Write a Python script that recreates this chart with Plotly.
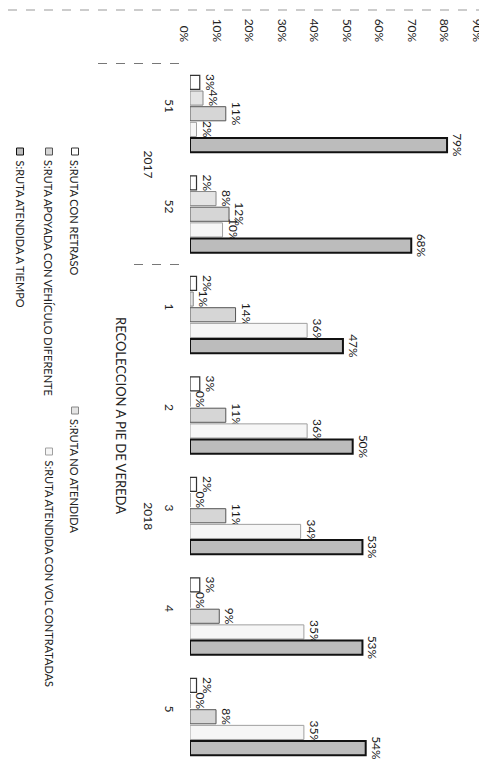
import plotly.graph_objects as go

# ---- data ----
weeks = ["51", "52", "1", "2", "3", "4", "5"]
years = ["2017", "2017", "2018", "2018", "2018", "2018", "2018"]
value_ticks = [0, 0.1, 0.2, 0.3, 0.4, 0.5, 0.6, 0.7, 0.8, 0.9]

series_names = [
    "S:RUTA CON RETRASO",
    "S:RUTA NO ATENDIDA",
    "S:RUTA APOYADA CON VEHÍCULO DIFERENTE",
    "S:RUTA ATENDIDA CON VOL CONTRATADAS",
    "S:RUTA ATENDIDA A TIEMPO",
]
con_retraso = [3, 2, 2, 3, 2, 3, 2]
no_atendida = [4, 8, 1, 0, 0, 0, 0]
apoyada_vehiculo = [11, 12, 14, 11, 11, 9, 8]
vol_contratadas = [2, 10, 36, 36, 34, 35, 35]
a_tiempo = [79, 68, 47, 50, 53, 53, 54]
axis_title = "RECOLECCION A PIE DE VEREDA"

all_series = [con_retraso, no_atendida, apoyada_vehiculo, vol_contratadas, a_tiempo]

# ---- styles ----
fills = ["#ffffff", "#e4e4e4", "#d6d6d6", "#f6f6f6", "#bcbcbc"]
lines = ["#333333", "#888888", "#555555", "#a0a0a0", "#111111"]
lwidths = [1.2, 1, 1, 1, 2]
FONT = "Lato"

W, H = 487, 759
L, R, T, B = 182, 12, 55, 0
PW, PH = W - L - R, H - T - B


def px(xpix):
    return (xpix - L) / PW


def py(ypix):
    return 1 - (ypix - T) / PH


fig = go.Figure()
for name, vals, fc, lc, lw in zip(series_names, all_series, fills, lines, lwidths):
    fig.add_trace(go.Bar(
        y=weeks, x=[v / 100 for v in vals], orientation="h", name=name,
        marker=dict(color=fc, line=dict(color=lc, width=lw)),
        text=[f"{v}%" for v in vals], textposition="outside", textangle=90,
        constraintext="none", cliponaxis=False,
        textfont=dict(family=FONT, size=12, color="#1a1a1a"),
        showlegend=False,
    ))

annotations = []
shapes = []

# year group labels and dividers
groups = {}
for i, yv in enumerate(years):
    groups.setdefault(yv, []).append(i)
for yv, idx in groups.items():
    annotations.append(dict(
        xref="paper", yref="y", x=px(131), y=(idx[0] + idx[-1]) / 2,
        text=yv, textangle=90, showarrow=False,
        font=dict(family=FONT, size=12, color="#222")))
    shapes.append(dict(type="line", xref="paper", yref="y",
                       x0=px(90) if idx[0] == 0 else px(126), x1=px(177),
                       y0=idx[0] - 0.5, y1=idx[0] - 0.5,
                       line=dict(color="#777", width=1, dash="dash")))

# axis title
annotations.append(dict(
    xref="paper", yref="paper", x=px(103), y=0.5, text=axis_title,
    textangle=90, showarrow=False, font=dict(family=FONT, size=13, color="#222")))

# legend (rotated, drawn manually)
legend_pos = [(67, 140), (67, 399), (41, 140), (41, 440), (12, 140)]
for (lx, ly), name, fc, lc in zip(legend_pos, series_names, fills, lines):
    shapes.append(dict(type="rect", xref="paper", yref="paper",
                       x0=px(lx - 3.5), x1=px(lx + 3.5), y0=py(ly), y1=py(ly + 7),
                       fillcolor=fc, line=dict(color=lc, width=1)))
    annotations.append(dict(
        xref="paper", yref="paper", x=px(lx), y=py(ly + 10), xanchor="center",
        yanchor="top", text=name, textangle=90, showarrow=False,
        font=dict(family=FONT, size=11, color="#222")))

# faint scan edge at top
shapes.append(dict(type="line", xref="paper", yref="paper", x0=px(0), x1=px(487),
                   y0=py(2), y1=py(2), line=dict(color="#999", width=1, dash="dash")))

fig.update_layout(
    width=W, height=H, margin=dict(l=L, r=R, t=T, b=B, pad=0),
    paper_bgcolor="white", plot_bgcolor="white",
    barmode="group", bargap=0.22, bargroupgap=0.1,
    font=dict(family=FONT, size=12, color="#222"),
    annotations=annotations, shapes=shapes,
    xaxis=dict(side="top", range=[0, 0.9005], tickvals=value_ticks, tickformat=".0%",
               tickangle=90, showgrid=False, zeroline=False, showline=False,
               ticks="", ticklabelstandoff=18, ticklabelshift=-6, automargin=False,
               tickfont=dict(family=FONT, size=12, color="#222")),
    yaxis=dict(type="category", categoryorder="array", categoryarray=weeks,
               autorange="reversed", tickangle=90, showgrid=False, showline=False,
               ticks="", ticklabelstandoff=12, ticklabelshift=6, automargin=False,
               tickfont=dict(family=FONT, size=12, color="#222")),
)

fig.write_html("out.html")
